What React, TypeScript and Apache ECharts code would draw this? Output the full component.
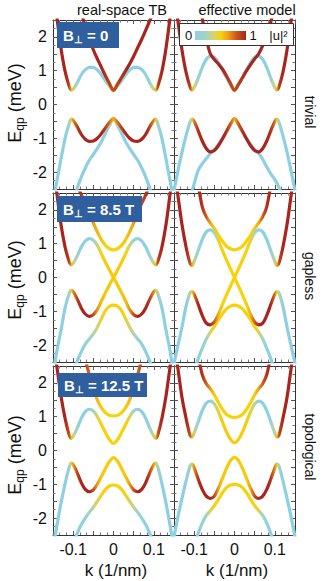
import React, { useEffect, useRef } from "react";
import * as echarts from "echarts";

const n = null;
// k grid (1/nm)
const K = [-0.15,-0.14,-0.13,-0.12,-0.11,-0.105,-0.1,-0.09,-0.08,-0.07,-0.06,-0.05,-0.04,-0.03,-0.02,-0.01,0,
  0.01,0.02,0.03,0.04,0.05,0.06,0.07,0.08,0.09,0.1,0.105,0.11,0.12,0.13,0.14,0.15];

// ---- B = 0, real-space TB ----
const A_P1_E = [3.6,2.55,1.65,0.98,0.55,0.43,0.45,0.64,0.88,1.03,1.10,1.10,1.02,0.88,0.70,0.54,0.42, 0.54,0.70,0.88,1.02,1.10,1.10,1.03,0.88,0.64,0.45,0.43,0.55,0.98,1.65,2.55,3.6];
const A_P1_W = [1,1,1,1,0.9,0.6,0.35,0.15,0.05,0,0,0,0,0.02,0.1,0.35,0.75, 0.35,0.1,0.02,0,0,0,0,0.05,0.15,0.35,0.6,0.9,1,1,1,1];
const A_P2_E = [n,n,n,n,n,n,n,n,2.75,2.3,1.95,1.62,1.35,1.1,0.85,0.62,0.42, 0.6,0.8,1.0,1.2,1.43,1.68,1.93,2.2,2.48,2.78,n,n,n,n,n,n];
const A_P2_W = [1,1,1,1,1,1,1,1,1,1,1,1,1,1,0.95,0.9,0.85, 0.9,0.95,1,1,1,1,1,1,1,1,1,1,1,1,1,1];
const A_N1_E = [-2.85,-2.25,-1.6,-1.0,-0.58,-0.43,-0.47,-0.66,-0.88,-1.03,-1.09,-1.08,-1.0,-0.86,-0.69,-0.53,-0.42, -0.53,-0.69,-0.86,-1.0,-1.08,-1.09,-1.03,-0.88,-0.66,-0.47,-0.43,-0.58,-1.0,-1.6,-2.25,-2.85];
const A_N1_W = [0,0,0,0,0.15,0.45,0.7,0.9,1,1,1,1,1,1,0.9,0.75,0.6, 0.75,0.9,1,1,1,1,1,1,0.9,0.7,0.45,0.15,0,0,0,0];
const A_N2_E = [n,n,n,n,n,n,-2.85,-2.48,-2.15,-1.88,-1.65,-1.48,-1.3,-1.1,-0.85,-0.62,-0.42, -0.62,-0.85,-1.1,-1.3,-1.48,-1.65,-1.88,-2.15,-2.48,-2.85,n,n,n,n,n,n];
const A_N2_W = [0,0,0,0,0,0,0,0,0,0,0,0,0,0,0.05,0.15,0.35, 0.15,0.05,0,0,0,0,0,0,0,0,0,0,0,0,0,0];

// ---- B = 0, effective model ----
const B_P1_E = [3.3,2.45,1.6,0.95,0.52,0.43,0.5,0.78,1.1,1.33,1.43,1.4,1.25,1.03,0.8,0.58,0.42, 0.58,0.8,1.03,1.25,1.4,1.43,1.33,1.1,0.78,0.5,0.43,0.52,0.95,1.6,2.45,3.3];
const B_P1_W = [1,1,1,1,0.9,0.6,0.35,0.12,0.02,0,0,0,0,0,0.03,0.2,0.6, 0.2,0.03,0,0,0,0,0,0.02,0.12,0.35,0.6,0.9,1,1,1,1];
const B_P2_E = [n,n,n,n,n,n,n,3.2,2.55,1.95,1.5,1.33,1.2,1.05,0.85,0.63,0.42, 0.6,0.8,1.0,1.18,1.35,1.5,1.75,2.1,2.45,2.85,n,n,n,n,n,n];
const B_P2_W = [1,1,1,1,1,1,1,1,1,1,1,1,1,1,0.95,0.9,0.85, 0.9,0.95,1,1,1,1,1,1,1,1,1,1,1,1,1,1];
const B_N1_E = [-2.55,-1.95,-1.4,-0.92,-0.52,-0.43,-0.5,-0.78,-1.08,-1.3,-1.4,-1.36,-1.22,-1.02,-0.8,-0.58,-0.42, -0.58,-0.8,-1.02,-1.22,-1.36,-1.4,-1.3,-1.08,-0.78,-0.5,-0.43,-0.52,-0.92,-1.4,-1.95,-2.55];
const B_N1_W = [0,0,0,0,0.15,0.45,0.75,0.95,1,1,1,1,1,1,0.95,0.8,0.6, 0.8,0.95,1,1,1,1,1,1,0.95,0.75,0.45,0.15,0,0,0,0];
const B_N2_E = [n,n,n,-3.1,-2.8,-2.55,-2.35,-1.95,-1.75,-1.6,-1.45,-1.33,-1.18,-1.0,-0.8,-0.6,-0.42, -0.6,-0.8,-1.0,-1.18,-1.33,-1.45,-1.62,-1.85,-2.05,-2.22,-2.32,-2.45,-2.72,-3.1,n,n];
const B_N2_W = [0,0,0,0,0,0,0,0,0,0,0,0,0,0,0.05,0.15,0.35, 0.15,0.05,0,0,0,0,0,0,0,0,0,0,0,0,0,0];

// ---- B = 8.5 T, real-space TB ----
const C_X1_E = [3.5,2.45,1.55,0.9,0.48,0.38,0.42,0.64,0.9,1.08,1.15,1.1,0.95,0.7,0.45,0.22,0, -0.22,-0.45,-0.7,-0.95,-1.1,-1.15,-1.08,-0.9,-0.64,-0.42,-0.38,-0.48,-0.9,-1.55,-2.15,-2.9];
const C_X1_W = [1,1,1,1,0.9,0.6,0.35,0.15,0.03,0,0.02,0.15,0.35,0.5,0.52,0.52,0.52, 0.52,0.53,0.56,0.66,0.85,1,1,1,0.9,0.7,0.45,0.2,0,0,0,0];
const C_X2_E = [-2.9,-2.15,-1.55,-0.9,-0.48,-0.38,-0.42,-0.64,-0.9,-1.08,-1.15,-1.1,-0.95,-0.7,-0.45,-0.22,0, 0.22,0.45,0.7,0.95,1.1,1.15,1.08,0.9,0.64,0.42,0.38,0.48,0.9,1.55,2.45,3.5];
const C_X2_W = [0,0,0,0,0.2,0.45,0.7,0.9,1,1,1,0.85,0.66,0.56,0.53,0.52,0.52, 0.52,0.52,0.5,0.35,0.15,0.02,0,0.03,0.15,0.35,0.6,0.9,1,1,1,1];
const C_P2_E = [n,n,n,n,n,n,n,2.75,2.45,2.2,1.9,1.62,1.35,1.12,0.95,0.85,0.82, 0.85,0.95,1.12,1.35,1.62,1.9,2.2,2.45,2.75,n,n,n,n,n,n,n];
const C_P2_W = [1,1,1,1,1,1,1,1,0.95,0.85,0.75,0.65,0.58,0.53,0.5,0.5,0.5, 0.5,0.5,0.53,0.58,0.65,0.75,0.85,0.95,1,1,1,1,1,1,1,1];
const C_N2_E = [n,n,n,n,n,n,-2.8,-2.48,-2.2,-1.97,-1.82,-1.67,-1.47,-1.22,-0.98,-0.85,-0.82, -0.85,-0.98,-1.22,-1.47,-1.67,-1.82,-1.97,-2.2,-2.48,-2.8,n,n,n,n,n,n];
const C_N2_W = [0,0,0,0,0,0,0,0,0,0.08,0.15,0.25,0.35,0.45,0.5,0.5,0.5, 0.5,0.5,0.45,0.35,0.25,0.15,0.08,0,0,0,0,0,0,0,0,0];

// ---- B = 8.5 T, effective model ----
const D_X1_E = [3.2,2.4,1.55,0.9,0.42,0.36,0.47,0.8,1.12,1.35,1.41,1.32,1.1,0.8,0.52,0.26,0, -0.26,-0.52,-0.8,-1.1,-1.32,-1.4,-1.35,-1.12,-0.8,-0.5,-0.42,-0.45,-0.85,-1.45,-2.0,-2.55];
const D_X1_W = [1,1,1,1,0.85,0.6,0.3,0.1,0,0,0,0.2,0.45,0.5,0.5,0.5,0.5, 0.5,0.5,0.5,0.6,0.8,1,1,1,1,0.75,0.5,0.25,0,0,0,0];
const D_X2_E = [-2.55,-2.0,-1.45,-0.85,-0.45,-0.42,-0.5,-0.8,-1.12,-1.35,-1.4,-1.32,-1.1,-0.8,-0.52,-0.26,0, 0.26,0.52,0.8,1.1,1.32,1.41,1.35,1.12,0.8,0.47,0.36,0.42,0.9,1.55,2.4,3.2];
const D_X2_W = [0,0,0,0,0.25,0.5,0.75,1,1,1,1,0.8,0.6,0.5,0.5,0.5,0.5, 0.5,0.5,0.5,0.45,0.2,0,0,0,0.1,0.3,0.6,0.85,1,1,1,1];
const D_P2_E = [n,n,n,n,n,n,n,2.75,2.1,1.8,1.62,1.45,1.25,1.08,0.93,0.85,0.82, 0.85,0.93,1.08,1.25,1.45,1.62,1.8,2.1,2.75,n,n,n,n,n,n,n];
const D_P2_W = [1,1,1,1,1,1,1,1,0.95,0.8,0.62,0.52,0.5,0.5,0.5,0.5,0.5, 0.5,0.5,0.5,0.5,0.52,0.62,0.8,0.95,1,1,1,1,1,1,1,1];
const D_N2_E = [n,n,n,n,n,n,-2.75,-2.4,-2.1,-1.82,-1.62,-1.45,-1.25,-1.08,-0.93,-0.85,-0.82, -0.85,-0.93,-1.08,-1.25,-1.45,-1.62,-1.82,-2.1,-2.4,-2.75,n,n,n,n,n,n];
const D_N2_W = [0,0,0,0,0,0,0,0,0.05,0.2,0.4,0.5,0.5,0.5,0.5,0.5,0.5, 0.5,0.5,0.5,0.5,0.5,0.4,0.2,0.05,0,0,0,0,0,0,0,0];

// ---- B = 12.5 T, real-space TB ----
const E_P1_E = [3.3,2.45,1.6,0.95,0.47,0.36,0.42,0.66,0.95,1.15,1.22,1.17,1.0,0.77,0.53,0.32,0.21, 0.32,0.53,0.77,1.0,1.17,1.22,1.15,0.95,0.66,0.42,0.36,0.47,0.95,1.6,2.45,3.3];
const E_P1_W = [1,1,1,1,0.85,0.6,0.35,0.12,0.02,0,0.02,0.2,0.4,0.5,0.5,0.5,0.5, 0.5,0.5,0.5,0.4,0.2,0.02,0,0.02,0.12,0.35,0.6,0.85,1,1,1,1];
const E_P2_E = [n,n,n,n,n,n,n,n,3.1,2.7,2.25,1.85,1.5,1.27,1.12,1.04,1.02, 1.04,1.12,1.27,1.5,1.85,2.25,2.7,3.1,n,n,n,n,n,n,n,n];
const E_P2_W = [1,1,1,1,1,1,1,1,1,0.9,0.78,0.65,0.56,0.52,0.5,0.5,0.5, 0.5,0.5,0.52,0.56,0.65,0.78,0.9,1,1,1,1,1,1,1,1,1];
const E_N1_E = [-2.9,-2.2,-1.55,-0.98,-0.5,-0.37,-0.42,-0.66,-0.95,-1.15,-1.22,-1.17,-1.0,-0.77,-0.53,-0.32,-0.21, -0.32,-0.53,-0.77,-1.0,-1.17,-1.22,-1.15,-0.95,-0.66,-0.42,-0.37,-0.5,-0.98,-1.55,-2.2,-2.9];
const E_N1_W = [0,0,0,0,0.15,0.4,0.65,0.88,1,1,1,0.85,0.65,0.53,0.52,0.52,0.52, 0.52,0.52,0.53,0.65,0.85,1,1,1,0.88,0.65,0.4,0.15,0,0,0,0];
const E_N2_E = [n,n,n,n,n,n,-2.75,-2.45,-2.2,-2.0,-1.83,-1.68,-1.5,-1.32,-1.15,-1.05,-1.02, -1.05,-1.15,-1.32,-1.5,-1.68,-1.83,-2.0,-2.2,-2.45,-2.75,n,n,n,n,n,n];
const E_N2_W = [0,0,0,0,0,0,0,0,0,0.08,0.18,0.3,0.4,0.48,0.5,0.5,0.5, 0.5,0.5,0.48,0.4,0.3,0.18,0.08,0,0,0,0,0,0,0,0,0];

// ---- B = 12.5 T, effective model ----
const F_P1_E = [3.2,2.4,1.55,0.95,0.45,0.4,0.52,0.85,1.18,1.4,1.46,1.38,1.15,0.85,0.55,0.33,0.23, 0.33,0.55,0.85,1.15,1.38,1.46,1.4,1.18,0.85,0.52,0.4,0.45,0.95,1.55,2.4,3.2];
const F_P1_W = [1,1,1,1,0.85,0.55,0.3,0.08,0,0,0,0.25,0.45,0.52,0.52,0.52,0.52, 0.52,0.52,0.52,0.45,0.25,0,0,0,0.08,0.3,0.55,0.85,1,1,1,1];
const F_P2_E = [n,n,n,n,n,n,n,2.8,2.25,1.98,1.83,1.65,1.42,1.22,1.07,1.0,0.98, 1.0,1.07,1.22,1.42,1.65,1.83,1.98,2.25,2.8,n,n,n,n,n,n,n];
const F_P2_W = [1,1,1,1,1,1,1,1,0.95,0.8,0.65,0.52,0.5,0.5,0.5,0.5,0.5, 0.5,0.5,0.5,0.5,0.52,0.65,0.8,0.95,1,1,1,1,1,1,1,1];
const F_N1_E = [-2.55,-1.95,-1.4,-0.9,-0.45,-0.4,-0.52,-0.85,-1.15,-1.35,-1.42,-1.35,-1.12,-0.83,-0.53,-0.3,-0.2, -0.3,-0.53,-0.83,-1.12,-1.35,-1.42,-1.35,-1.15,-0.85,-0.52,-0.4,-0.45,-0.9,-1.4,-1.95,-2.55];
const F_N1_W = [0,0,0,0,0.2,0.45,0.7,0.95,1,1,1,0.85,0.65,0.52,0.52,0.52,0.52, 0.52,0.52,0.52,0.65,0.85,1,1,1,0.95,0.7,0.45,0.2,0,0,0,0];
const F_N2_E = [n,n,n,n,n,n,-2.8,-2.45,-2.15,-1.92,-1.78,-1.63,-1.45,-1.25,-1.1,-1.02,-1.0, -1.02,-1.1,-1.25,-1.45,-1.63,-1.78,-1.92,-2.15,-2.45,-2.8,n,n,n,n,n,n];
const F_N2_W = [0,0,0,0,0,0,0,0,0.05,0.2,0.4,0.5,0.5,0.5,0.5,0.5,0.5, 0.5,0.5,0.5,0.5,0.5,0.4,0.2,0.05,0,0,0,0,0,0,0,0];

// panels: row-major, [row][col]
const PANELS = [
  [[A_N2_E, A_N2_W], [A_N1_E, A_N1_W], [A_P1_E, A_P1_W], [A_P2_E, A_P2_W]],
  [[B_N2_E, B_N2_W], [B_N1_E, B_N1_W], [B_P1_E, B_P1_W], [B_P2_E, B_P2_W]],
  [[C_N2_E, C_N2_W], [C_P2_E, C_P2_W], [C_X2_E, C_X2_W], [C_X1_E, C_X1_W]],
  [[D_N2_E, D_N2_W], [D_P2_E, D_P2_W], [D_X2_E, D_X2_W], [D_X1_E, D_X1_W]],
  [[E_N2_E, E_N2_W], [E_P2_E, E_P2_W], [E_N1_E, E_N1_W], [E_P1_E, E_P1_W]],
  [[F_N2_E, F_N2_W], [F_P2_E, F_P2_W], [F_N1_E, F_N1_W], [F_P1_E, F_P1_W]],
];

const COL_TITLES = ["real-space TB", "effective model"];
const ROW_LABELS = ["trivial", "gapless", "topological"];
const FIELD_LABELS = ["0", "8.5 T", "12.5 T"];

// layout
const GL = [53, 174];
const GT = [20, 193, 366];
const GW = 121;
const GH = 169;
const FONT = '"Liberation Sans", Arial, Helvetica, sans-serif';

const CMAP: [number, number[]][] = [
  [0.0, [141, 208, 228]],
  [0.2, [160, 211, 200]],
  [0.35, [205, 212, 120]],
  [0.5, [247, 210, 10]],
  [0.65, [238, 160, 20]],
  [0.8, [208, 90, 26]],
  [1.0, [168, 36, 28]],
];

function cmap(w: number) {
  const v = Math.max(0, Math.min(1, w));
  for (let i = 1; i < CMAP.length; i++) {
    const [o1, c1] = CMAP[i];
    const [o0, c0] = CMAP[i - 1];
    if (v <= o1) {
      const t = (v - o0) / (o1 - o0);
      const c = c0.map((a, j) => Math.round(a + (c1[j] - a) * t));
      return `rgb(${c[0]},${c[1]},${c[2]})`;
    }
  }
  const c = CMAP[CMAP.length - 1][1];
  return `rgb(${c[0]},${c[1]},${c[2]})`;
}

function bandGradient(col: number, w: number[]) {
  const stops = K.map((k, i) => ({
    offset: Math.max(0, Math.min(1, (k + 0.15) / 0.3)),
    color: cmap(w[i]),
  }));
  return new echarts.graphic.LinearGradient(GL[col], 0, GL[col] + GW, 0, stops, true);
}

function fmtX(v: number) {
  if (Math.abs(v - 0.1) < 1e-6) return "0.1";
  if (Math.abs(v + 0.1) < 1e-6) return "-0.1";
  if (Math.abs(v) < 1e-6) return "0";
  return "";
}
function fmtY(v: number) {
  const r = Math.round(v);
  if (Math.abs(v - r) < 1e-6) return r === 0 ? "0" : String(r);
  return "";
}

function buildOption() {
  const grid: any[] = [];
  const xAxis: any[] = [];
  const yAxis: any[] = [];
  const series: any[] = [];
  const axisLine = { show: true, onZero: false, lineStyle: { color: "#333", width: 1 } };
  const labelStyle = { fontSize: 16, color: "#111", fontFamily: FONT };
  for (let r = 0; r < 3; r++) {
    for (let c = 0; c < 2; c++) {
      const g = r * 2 + c;
      grid.push({ left: GL[c], top: GT[r], width: GW, height: GH });
      const xBase = {
        gridIndex: g, type: "value", min: -0.15, max: 0.15, interval: 0.05,
        axisLine, splitLine: { show: false },
        axisTick: { show: true, inside: true, length: 4, lineStyle: { color: "#555" } },
        minorTick: { show: true, splitNumber: 3, length: 2.5, lineStyle: { color: "#777" } },
      };
      xAxis.push({ ...xBase, position: "bottom",
        axisLabel: { show: r === 2, formatter: fmtX, margin: 6, ...labelStyle } });
      xAxis.push({ ...xBase, position: "top", axisLabel: { show: false } });
      const yBase = {
        gridIndex: g, type: "value", min: -2.5, max: 2.5, interval: 0.5,
        axisLine, splitLine: { show: false },
        axisTick: { show: true, inside: true, length: 4, lineStyle: { color: "#555" } },
        minorTick: { show: true, splitNumber: 2, length: 2.5, lineStyle: { color: "#777" } },
      };
      yAxis.push({ ...yBase, position: "left",
        axisLabel: { show: c === 0, formatter: fmtY, margin: 6, ...labelStyle } });
      yAxis.push({ ...yBase, position: "right", axisLabel: { show: false } });

      PANELS[g].forEach(([e, w]: any, bi: number) => {
        const data = K.map((k, i) => [k, e[i]]).filter((d) => d[1] !== null);
        series.push({
          type: "line",
          xAxisIndex: 2 * g,
          yAxisIndex: 2 * g,
          data,
          smooth: 0.3,
          showSymbol: false,
          symbol: "none",
          clip: true,
          silent: true,
          z: 2 + bi,
          emphasis: { disabled: true },
          lineStyle: { width: 3.2, color: bandGradient(c, w), cap: "round", join: "round" },
        });
      });
    }
  }

  const graphic: any[] = [];
  const text = (x: number, y: number, t: string, size: number, extra: any = {}, rot = 0) => ({
    type: "text", x, y, rotation: rot, z: 100,
    style: { text: t, fontSize: size, fontFamily: FONT, fill: "#111", align: "center", verticalAlign: "middle", ...extra },
  });
  graphic.push(text(122, 10, COL_TITLES[0], 14.5));
  graphic.push(text(247, 10, COL_TITLES[1], 14.5));
  const rowLabelY = [112, 276, 447];
  const eLabelY = [103, 280, 455];
  const boxes = [
    { x: 57, y: 22, w: 62, h: 26 },
    { x: 57, y: 196, w: 85, h: 26 },
    { x: 58, y: 373, w: 89, h: 24 },
  ];
  for (let r = 0; r < 3; r++) {
    graphic.push(text(310, rowLabelY[r], ROW_LABELS[r], 14, {}, -Math.PI / 2));
    graphic.push({
      type: "text", x: 15, y: eLabelY[r], rotation: Math.PI / 2, z: 100,
      style: {
        text: "{a|E}{b|qp}{a| (meV)}", fontSize: 18, fontFamily: FONT, fill: "#111",
        align: "center", verticalAlign: "middle",
        rich: {
          a: { fontSize: 18, fontFamily: FONT, fill: "#111", lineHeight: 22 },
          b: { fontSize: 12, fontFamily: FONT, fill: "#111", lineHeight: 12, verticalAlign: "bottom" },
        },
      },
    });
    const b = boxes[r];
    graphic.push({ type: "rect", z: 100, shape: { x: b.x, y: b.y, width: b.w, height: b.h }, style: { fill: "#2f5f9e" } });
    graphic.push({
      type: "text", x: b.x + 6, y: b.y + b.h / 2, z: 101,
      style: {
        text: `{a|B}{b|⊥}{a| = ${FIELD_LABELS[r]}}`, fontSize: 15, fontFamily: FONT, fill: "#fff",
        fontWeight: "bold", align: "left", verticalAlign: "middle",
        rich: {
          a: { fontSize: 15, fontFamily: FONT, fill: "#fff", fontWeight: "bold", lineHeight: 18 },
          b: { fontSize: 10, fontFamily: FONT, fill: "#fff", fontWeight: "bold", lineHeight: 10, verticalAlign: "bottom" },
        },
      },
    });
  }
  graphic.push(text(116, 570, "k (1/nm)", 17));
  graphic.push(text(237, 570, "k (1/nm)", 17));

  // colour bar legend
  graphic.push({ type: "rect", z: 100, shape: { x: 179.5, y: 23.5, width: 114, height: 22 },
    style: { fill: "#fff", stroke: "#333", lineWidth: 1 } });
  graphic.push({ type: "rect", z: 101, shape: { x: 195, y: 31, width: 51, height: 9 },
    style: { fill: new echarts.graphic.LinearGradient(0, 0, 1, 0, CMAP.map(([o, c]) => ({ offset: o, color: `rgb(${c[0]},${c[1]},${c[2]})` }))) } });
  graphic.push({ ...text(188.5, 35.5, "0", 13), z: 101 });
  graphic.push({ ...text(253, 35.5, "1", 13), z: 101 });
  graphic.push({ ...text(278.5, 35, "|u|²", 13), z: 101 });

  return {
    animation: false,
    backgroundColor: "#fff",
    textStyle: { fontFamily: FONT },
    grid, xAxis, yAxis, series, graphic,
  };
}

export default function App() {
  const ref = useRef<HTMLDivElement>(null);
  useEffect(() => {
    if (!ref.current) return;
    const chart = echarts.init(ref.current, null, { renderer: "svg" });
    chart.setOption(buildOption() as any);
    return () => chart.dispose();
  }, []);
  return (
    <div
      ref={ref}
      style={{ position: "absolute", left: 0, top: 0, width: 332, height: 581, background: "#fff" }}
    />
  );
}
